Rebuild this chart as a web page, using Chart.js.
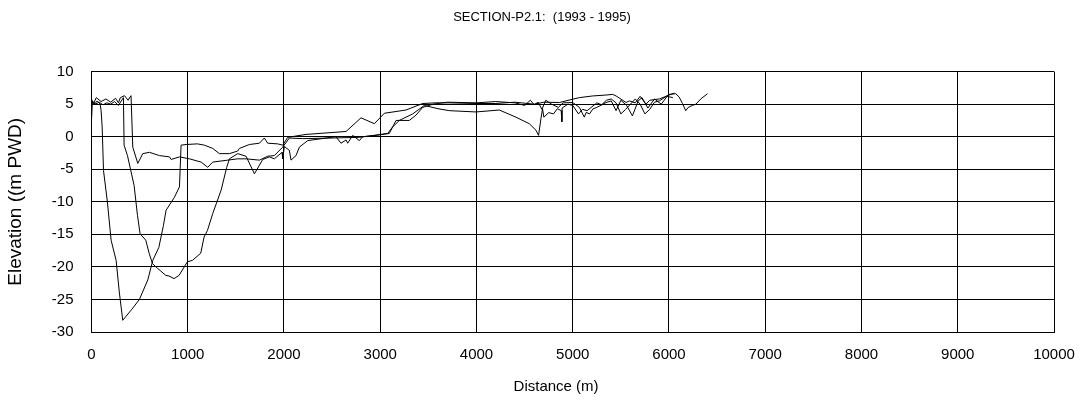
<!DOCTYPE html>
<html>
<head>
<meta charset="utf-8">
<script src="https://cdn.jsdelivr.net/npm/chart.js@4/dist/chart.umd.min.js"></script>
<style>
  html, body { margin: 0; padding: 0; background: #fff; }
  #wrap { width: 1084px; height: 407px; }
</style>
</head>
<body>
<div id="wrap"><canvas id="myChart" width="1084" height="407"></canvas></div>
<script>
// tieu de va truc
const chartTitle = 'SECTION-P2.1:  (1993 - 1995)';
const xTitle = 'Distance (m)';
const yTitle = 'Elevation ((m PWD)';
const xTicks = [0, 1000, 2000, 3000, 4000, 5000, 6000, 7000, 8000, 9000, 10000];
const yTicks = [-30, -25, -20, -15, -10, -5, 0, 5, 10];

// mat cat 1 (sau nhat, day ~ -28)
const distA = [0, 30, 60, 90, 100, 111, 125, 165, 204, 256, 290, 325, 420, 498, 585, 637, 700, 748, 775, 862,
  914, 931, 983, 1100, 1173, 1260, 1329, 1433, 1519, 1537, 1641, 1745, 1796, 1831, 1935, 1987, 2039, 2229, 2645, 2800,
  2939, 3043, 3268, 3441, 3579, 3718, 3995, 4202, 4400, 4600, 4700, 4862, 5000, 5069, 5208, 5346, 5415, 5450, 5502, 5554,
  5588, 5650, 5700, 5761, 5800, 5900, 6003, 6055];
const elevA = [5.5, 5.0, 5.5, 5.0, 4.0, 1.5, -5.2, -10.0, -15.9, -19.0, -24.0, -28.2, -26.5, -25.0, -22.0, -19.0, -17.0, -13.6, -11.3, -9.3,
  -7.7, -1.3, -1.2, -1.1, -1.3, -1.8, -2.6, -2.6, -2.2, -1.8, -1.2, -1.0, -0.2, -1.0, -1.1, -1.3, -0.1, 0.35, 0.8, 2.9,
  2.0, 3.6, 4.1, 5.1, 5.2, 5.2, 5.1, 5.1, 5.3, 5.0, 5.3, 5.25, 5.76, 6.0, 6.26, 6.4, 6.5, 6.26, 5.76, 5.25,
  5.5, 5.2, 6.2, 5.0, 5.6, 5.8, 6.4, 6.7];

// mat cat 2 (tut xuong o ~430 m, keo dai toi 6400 m)
const distB = [0, 20, 50, 100, 150, 200, 250, 280, 300, 343, 380, 411, 429, 481, 533, 602, 706, 810, 828, 914,
  1018, 1139, 1208, 1260, 1416, 1519, 1606, 1745, 1831, 1900, 1987, 2056, 2194, 2500, 2783, 3077, 3129, 3198, 3337, 3458,
  3600, 3718, 3995, 4237, 4410, 4548, 4618, 4645, 4670, 4686, 4700, 4750, 4800, 4840, 4880, 4887, 4890, 4950, 5000, 5060,
  5100, 5150, 5200, 5250, 5300, 5350, 5400, 5450, 5500, 5550, 5600, 5650, 5700, 5750, 5800, 5850, 5900, 6003, 6070, 6105,
  6140, 6174, 6200, 6243, 6280, 6330, 6400];
const elevB = [5.8, 5.0, 6.0, 5.4, 5.8, 5.3, 5.9, 5.2, 6.0, 6.3, 5.6, 6.3, -1.6, -4.1, -2.6, -2.4, -2.9, -3.1, -3.5, -3.1,
  -3.4, -3.9, -4.7, -3.9, -3.6, -3.4, -3.4, -3.6, -3.0, -2.9, -1.6, -0.2, -0.3, -0.2, -0.1, 0.5, 1.5, 2.5, 3.5, 4.8,
  4.3, 4.0, 3.8, 4.1, 3.0, 2.0, 1.0, 0.2, 2.8, 4.3, 3.0, 3.7, 3.5, 4.3, 4.0, 2.3, 4.4, 5.0, 4.8, 3.5,
  4.2, 4.0, 4.6, 5.2, 4.9, 5.6, 5.8, 5.2, 3.5, 4.2, 5.0, 5.8, 5.0, 3.5, 4.2, 5.3, 5.5, 6.5, 6.6, 6.1,
  5.1, 4.0, 4.5, 4.8, 5.0, 5.8, 6.6];

// mat cat 3 (lach sau ~ -21 o 850 m)
const distC = [0, 10, 40, 80, 120, 160, 200, 240, 280, 310, 332, 339, 374, 443, 478, 505, 564, 599, 634, 685,
  772, 806, 858, 910, 997, 1049, 1135, 1170, 1205, 1260, 1347, 1405, 1433, 1519, 1606, 1693, 1779, 1848, 1900, 1980,
  1987, 2004, 2056, 2073, 2125, 2160, 2246, 2540, 2592, 2645, 2662, 2714, 2783, 2818, 2956, 3094, 3164, 3302, 3371, 3441,
  3550, 3700, 4000, 4200, 4400, 4500, 4560, 4600, 4640, 4680, 4720, 4780, 4850, 4900, 5000, 5069, 5120, 5140, 5174, 5208,
  5250, 5346, 5400, 5450, 5500, 5560, 5620, 5680, 5720, 5780, 5850, 5920, 5980, 6040];
const elevC = [2.5, 5.5, 5.0, 5.3, 4.9, 5.2, 5.0, 5.4, 4.8, 5.5, 6.0, -1.3, -2.9, -7.5, -12.1, -14.9, -15.9, -17.9, -19.5, -20.2,
  -21.3, -21.4, -21.8, -21.3, -19.2, -19.0, -17.9, -15.4, -14.4, -11.8, -8.2, -4.7, -3.4, -2.6, -3.0, -5.7, -3.5, -3.1, -3.4, -2.4,
  -3.4, -1.5, -2.1, -3.6, -2.9, -1.6, -0.6, 0.0, -1.0, -0.5, -1.0, 0.2, -0.6, 0.0, 0.2, 0.5, 2.5, 2.5, 3.3, 4.5,
  5.0, 5.3, 5.2, 5.4, 5.2, 4.8, 5.6, 4.9, 5.3, 4.2, 5.6, 5.0, 4.5, 5.2, 5.25, 4.5, 3.0, 3.74, 3.5, 4.25,
  4.5, 5.25, 5.5, 4.0, 5.6, 4.8, 3.2, 5.5, 6.0, 4.4, 5.8, 5.0, 6.2, 6.0];

function toPoints(xs, ys) {
    return xs.map((x, i) => ({ x: x, y: ys[i] }));
}

const lineStyle = {
    showLine: true,
    borderColor: '#000',
    borderWidth: 1,
    pointRadius: 0,
    tension: 0,
    fill: false
};

const fontFamily = 'Liberation Sans, Arial';

const ctx = document.getElementById('myChart').getContext('2d');
const myChart = new Chart(ctx, {
    type: 'scatter',
    data: {
        datasets: [
            Object.assign({ label: 'A', data: toPoints(distA, elevA) }, lineStyle),
            Object.assign({ label: 'B', data: toPoints(distB, elevB) }, lineStyle),
            Object.assign({ label: 'C', data: toPoints(distC, elevC) }, lineStyle)
        ]
    },
    options: {
        responsive: false,
        animation: false,
        layout: { padding: { left: 0, right: 0, top: 0, bottom: 0 } },
        plugins: {
            legend: { display: false },
            tooltip: { enabled: false },
            title: {
                display: true,
                text: chartTitle,
                color: '#000',
                font: { family: fontFamily, size: 13, weight: 'normal' },
                padding: { top: 10, bottom: 46 }
            }
        },
        scales: {
            x: {
                type: 'linear',
                min: 0,
                max: 10000,
                afterBuildTicks: (axis) => { axis.ticks = xTicks.map(v => ({ value: v })); },
                // chua le phai 30px cho nhan 10000
                afterFit: (axis) => { axis.paddingRight = 30; },
                ticks: {
                    color: '#000',
                    padding: 14,
                    maxRotation: 0,
                    font: { family: fontFamily, size: 15 },
                    callback: (v) => String(v)
                },
                grid: { color: '#000', lineWidth: 1, drawTicks: false },
                border: { color: '#000', width: 1 },
                title: {
                    display: true,
                    text: xTitle + '        ',
                    color: '#000',
                    font: { family: fontFamily, size: 15 },
                    padding: { top: 0, bottom: 11 }
                }
            },
            y: {
                type: 'linear',
                min: -30,
                max: 10,
                afterBuildTicks: (axis) => { axis.ticks = yTicks.map(v => ({ value: v })); },
                ticks: {
                    color: '#000',
                    padding: 18,
                    font: { family: fontFamily, size: 15 },
                    callback: (v) => String(v)
                },
                grid: { color: '#000', lineWidth: 1, drawTicks: false },
                border: { color: '#000', width: 1 },
                title: {
                    display: true,
                    text: yTitle,
                    color: '#000',
                    font: { family: fontFamily, size: 19 },
                    padding: { top: 4, bottom: 7 }
                }
            }
        }
    }
});
</script>
</body>
</html>
